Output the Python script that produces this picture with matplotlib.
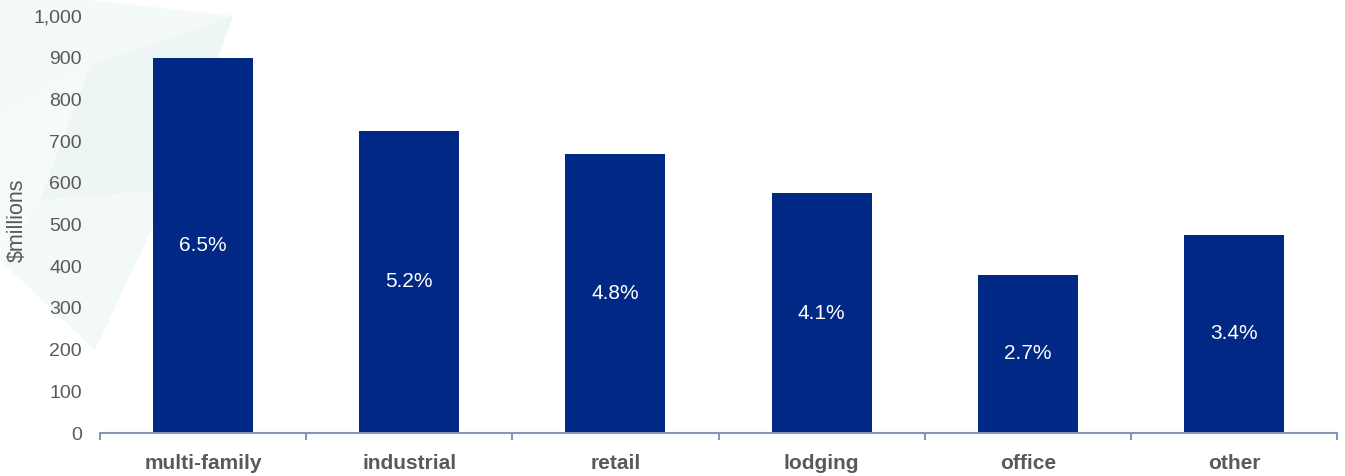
import matplotlib.pyplot as plt
from matplotlib.patches import Polygon

# sector totals ($ millions) and share labels
sectors = ["multi-family", "industrial", "retail", "lodging", "office", "other"]
totals = [900, 725, 670, 575, 380, 475]
shares = ["6.5%", "5.2%", "4.8%", "4.1%", "2.7%", "3.4%"]

plt.rcParams["font.family"] = ["Liberation Sans", "DejaVu Sans"]

fig = plt.figure(figsize=(13.45, 4.76), dpi=100)

# faint decorative shapes behind the chart (pixel coords, y down)
bg = fig.add_axes([0, 0, 1, 1], zorder=-1)
bg.set_xlim(0, 1345)
bg.set_ylim(476, 0)
bg.axis("off")
shapes = [
    ([(0, 0), (90, 0), (233, 16), (90, 65), (0, 120)], "#f4f9f9"),
    ([(90, 65), (233, 16), (170, 190), (40, 200)], "#eef6f5"),
    ([(0, 120), (90, 65), (40, 200), (0, 230)], "#f6fafa"),
    ([(40, 200), (170, 190), (95, 350), (0, 260)], "#f3f8f8"),
    ([(0, 230), (40, 200), (0, 260)], "#f7fbfb"),
]
for pts, c in shapes:
    bg.add_patch(Polygon(pts, closed=True, facecolor=c, edgecolor="none"))

ax = fig.add_axes([100 / 1345, 43 / 476, 1237 / 1345, 417 / 476])
ax.set_facecolor("none")

x = range(len(sectors))
bars = ax.bar(x, totals, width=0.485, color="#002884", zorder=2)
for b, v, s in zip(bars, totals, shares):
    ax.text(b.get_x() + b.get_width() / 2, v / 2, s, ha="center", va="center",
            color="white", fontsize=15)

ax.set_xlim(-0.5, len(sectors) - 0.5)
ax.set_ylim(0, 1000)
ax.set_yticks(range(0, 1001, 100))
ax.set_yticklabels([f"{t:,}" for t in range(0, 1001, 100)])
ax.tick_params(axis="y", length=0, pad=13, labelsize=14, labelcolor="#595959")

ax.set_xticks(x)
ax.set_xticklabels(sectors, fontweight="bold")
ax.tick_params(axis="x", length=0, pad=15, labelsize=15, labelcolor="#595959")
ax.set_xticks([i - 0.5 for i in range(len(sectors) + 1)], minor=True)
ax.tick_params(axis="x", which="minor", length=5, direction="out", color="#8a93b8", width=1.5)

for side in ["left", "right", "top"]:
    ax.spines[side].set_visible(False)
ax.spines["bottom"].set_color("#8a93b8")
ax.spines["bottom"].set_linewidth(1.5)

ax.set_ylabel("$millions", fontsize=15.5, color="#595959")
ax.yaxis.set_label_coords(-0.058, 0.51)

fig.savefig("out.png", dpi=100)
